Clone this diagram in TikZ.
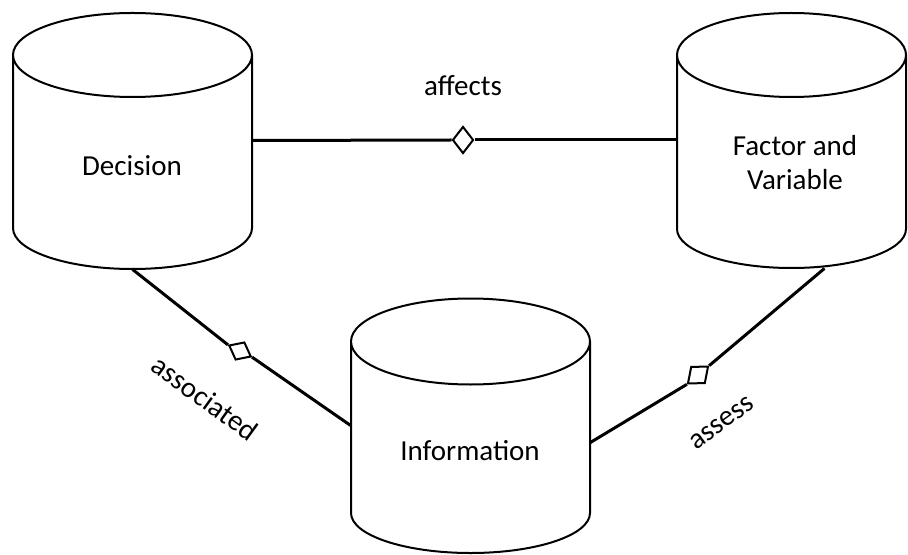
\documentclass[tikz,border=0pt]{standalone}
\usepackage{fontspec}
\setmainfont{Carlito}
\usetikzlibrary{shapes.geometric,calc}
\begin{document}
\begin{tikzpicture}[x=0.5pt,y=0.5pt,
  cyl/.style={draw=black,line width=1pt,fill=white},
  conn/.style={draw=black,line width=1.5pt},
  agg/.style={shape=diamond,draw=black,line width=1pt,fill=white,inner sep=0pt},
  lbl/.style={font=\fontsize{14.5}{17}\selectfont,text=black,inner sep=0pt,align=center},
  box/.style={shape=rectangle,inner sep=0pt}]
\useasboundingbox (0,0) rectangle (908,-555);
% Decision cylinder
\draw[cyl] (13,-55) -- (13,-228) arc[start angle=180,end angle=360,x radius=119.5,y radius=41] -- (252,-55);
\draw[cyl] (132.5,-55) ellipse [x radius=119.5,y radius=42];
% Factor cylinder
\draw[cyl] (677,-55) -- (677,-229) arc[start angle=180,end angle=360,x radius=114.5,y radius=39] -- (906,-55);
\draw[cyl] (791.5,-55) ellipse [x radius=114.5,y radius=42];
% Information cylinder
\draw[cyl] (351,-341.5) -- (351,-513) arc[start angle=180,end angle=360,x radius=119.5,y radius=40] -- (590,-341.5);
\draw[cyl] (470.5,-341.5) ellipse [x radius=119.5,y radius=43];
% invisible node outlines
\node[box,minimum width=119.5pt,minimum height=128.5pt] (dec) at (132.5,-140.5) {};
\node[box,minimum width=114.5pt,minimum height=128pt] (fac) at (791.5,-140) {};
\node[box,minimum width=119.5pt,minimum height=128pt] (info) at (470.5,-425.5) {};
% labels
\node[lbl] (tdec) at (132,-166) {Decision};
\node[lbl] (tfac) at (795,-163) {Factor and\\Variable};
\node[lbl] (tinfo) at (470,-451) {Information};
% diamonds
\node[agg,minimum width=10.5pt,minimum height=13.5pt] (d1) at (463,-140) {};
\node[agg,minimum width=12.5pt,minimum height=10pt,rotate=-27] (d2) at (240,-351) {};
\node[agg,minimum width=13.5pt,minimum height=11pt,rotate=40] (d3) at (698,-375) {};
% connectors
\draw[conn] (dec.east) -- (d1.west);
\draw[conn] (d1.east) -- (fac.west);
\draw[conn] (dec.south) -- (d2.west);
\draw[conn] (d2.east) -- (info.west);
\draw[conn] ($(info.east)+(0,-17)$) -- (d3.west);
\draw[conn] (d3.east) -- ($(fac.south)+(33,0)$);
% relation labels
\node[lbl] (laff) at (463,-86) {affects};
\node[lbl,rotate=-36] (lass) at (205,-398) {associated};
\node[lbl,rotate=36] (lasm) at (722,-423) {assess};
\end{tikzpicture}
\end{document}
